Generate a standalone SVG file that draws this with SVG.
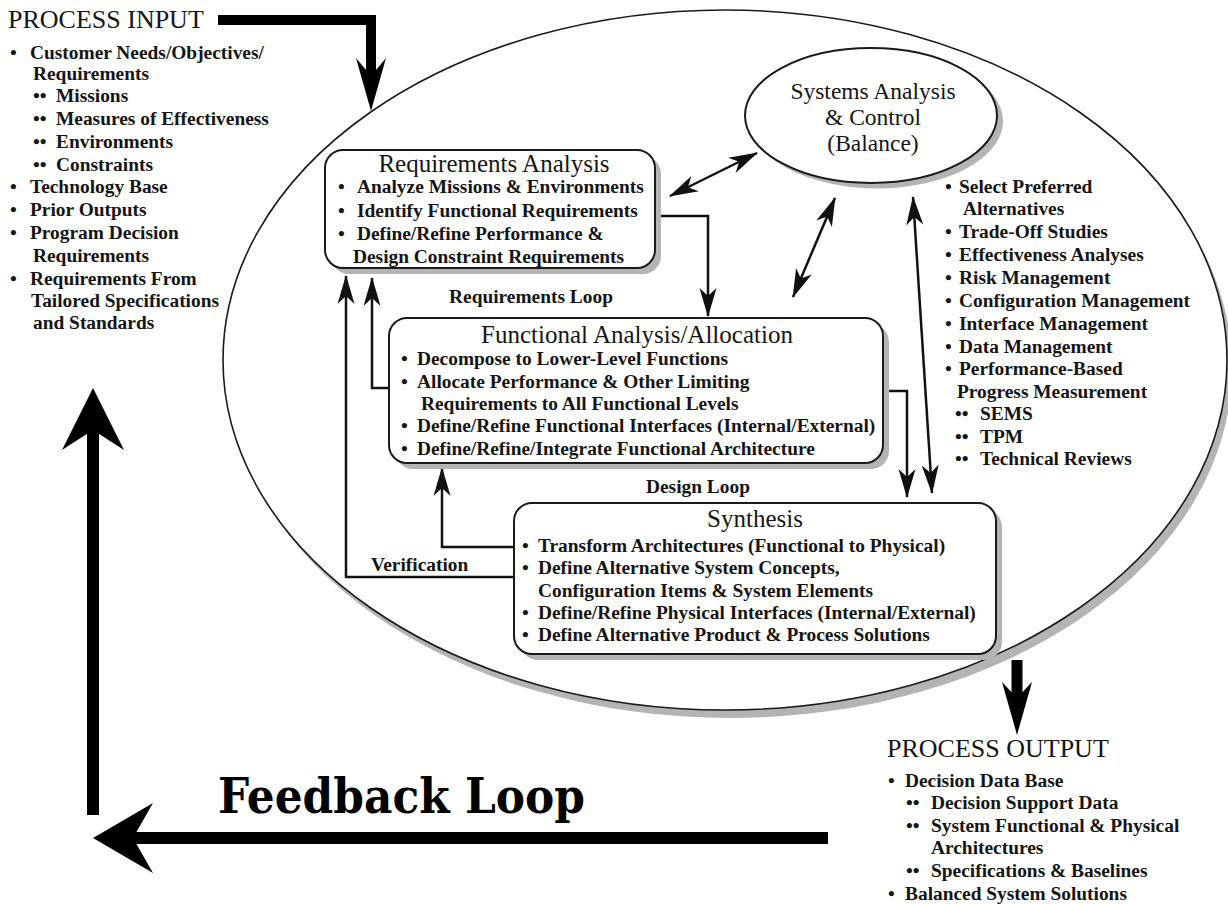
<svg xmlns="http://www.w3.org/2000/svg" width="1228" height="904" viewBox="0 0 1228 904">
  <defs>
    <style>
      .hd { font-family: "Liberation Serif", "Times New Roman", serif; font-size: 26px; fill: #151515; }
      .tt { font-family: "Liberation Serif", "Times New Roman", serif; font-size: 25px; fill: #151515; text-anchor: middle; }
      .st { font-family: "Liberation Serif", "Times New Roman", serif; font-size: 23.5px; fill: #151515; text-anchor: middle; }
      .it { font-family: "Liberation Serif", "Times New Roman", serif; font-size: 19.4px; font-weight: bold; fill: #151515; }
      .lb { font-family: "Liberation Serif", "Times New Roman", serif; font-size: 19.4px; font-weight: bold; fill: #151515; }
      .fb { font-family: "DejaVu Serif", "Liberation Serif", serif; font-size: 48px; font-weight: bold; fill: #000; }
      .box { fill: #fff; stroke: #1a1a1a; stroke-width: 2; }
      .shadow { fill: #b4b4b4; stroke: none; }
      .wire { fill: none; stroke: #111; stroke-width: 2.5; }
      .thick { fill: none; stroke: #000; }
      .head { fill: #000; }
    </style>
    <marker id="tip" viewBox="-30 -10 32 20" markerWidth="32" markerHeight="20" refX="0" refY="0" markerUnits="userSpaceOnUse" orient="auto-start-reverse">
      <path d="M1,0 L-28,-8.5 L-20,0 L-28,8.5 Z" fill="#111"/>
    </marker>
  </defs>

  <!-- outer process boundary -->
  <g id="process-boundary">
    <ellipse cx="730" cy="368" rx="502" ry="350" class="shadow"/>
    <ellipse cx="725" cy="360" rx="502" ry="350" fill="#fff" stroke="#1a1a1a" stroke-width="1.6"/>
  </g>

  <!-- process input -->
  <g id="process-input">
    <text class="hd" x="8" y="28">PROCESS INPUT</text>
    <text class="it" y="59"><tspan x="10">•</tspan><tspan x="30">Customer Needs/Objectives/</tspan></text>
    <text class="it" x="33" y="80">Requirements</text>
    <text class="it" y="102"><tspan x="33">••</tspan><tspan x="56">Missions</tspan></text>
    <text class="it" y="125"><tspan x="33">••</tspan><tspan x="56">Measures of Effectiveness</tspan></text>
    <text class="it" y="148"><tspan x="33">••</tspan><tspan x="56">Environments</tspan></text>
    <text class="it" y="171"><tspan x="33">••</tspan><tspan x="56">Constraints</tspan></text>
    <text class="it" y="193"><tspan x="10">•</tspan><tspan x="30">Technology Base</tspan></text>
    <text class="it" y="216"><tspan x="10">•</tspan><tspan x="30">Prior Outputs</tspan></text>
    <text class="it" y="239"><tspan x="10">•</tspan><tspan x="30">Program Decision</tspan></text>
    <text class="it" x="33" y="262">Requirements</text>
    <text class="it" y="285"><tspan x="10">•</tspan><tspan x="30">Requirements From</tspan></text>
    <text class="it" x="31" y="307">Tailored Specifications</text>
    <text class="it" x="33" y="329">and Standards</text>
  </g>

  <!-- connectors -->
  <g id="connectors">
    <!-- input / output / feedback heavy arrows -->
    <path class="thick" stroke-width="10" d="M218,20 H371 V78"/>
    <path class="head" d="M371,111 L356,58 L371,76 L386,58 Z"/>
    <path class="thick" stroke-width="11" d="M1017,660 V700"/>
    <path class="head" d="M1017,735 L1002,682 L1017,698 L1032,682 Z"/>
    <path class="thick" stroke-width="12" d="M828,838 H128"/>
    <path class="head" d="M93,838 L153,803 L133,838 L153,873 Z"/>
    <path class="thick" stroke-width="12" d="M93,815 V425"/>
    <path class="head" d="M93,388 L124,450 L93,430 L62,450 Z"/>

    <!-- loops between the activities -->
    <path class="wire" d="M655,216 H708 V316" marker-end="url(#tip)"/>
    <path class="wire" d="M883,391 H907 V497" marker-end="url(#tip)"/>
    <path class="wire" d="M390,388 H372 V278" marker-end="url(#tip)"/>
    <path class="wire" d="M514,577 H346 V276" marker-end="url(#tip)"/>
    <path class="wire" d="M514,547 H442 V468" marker-end="url(#tip)"/>

    <!-- balance links -->
    <path class="wire" d="M670,196 L757,153" marker-start="url(#tip)" marker-end="url(#tip)"/>
    <path class="wire" d="M793,297 L835,198" marker-start="url(#tip)" marker-end="url(#tip)"/>
    <path class="wire" d="M932,493 L913,197" marker-start="url(#tip)" marker-end="url(#tip)"/>

    <text class="lb" x="531" y="303" text-anchor="middle">Requirements Loop</text>
    <text class="lb" x="698" y="493" text-anchor="middle">Design Loop</text>
    <text class="lb" x="371" y="571">Verification</text>
  </g>

  <!-- requirements analysis -->
  <g id="requirements-analysis">
    <rect class="shadow" x="331" y="156" width="330" height="118" rx="18"/>
    <rect class="box" x="325" y="150" width="330" height="118" rx="18"/>
    <text class="tt" x="494" y="172">Requirements Analysis</text>
    <text class="it" y="193"><tspan x="338">•</tspan><tspan x="357">Analyze Missions &amp; Environments</tspan></text>
    <text class="it" y="217"><tspan x="338">•</tspan><tspan x="357">Identify Functional Requirements</tspan></text>
    <text class="it" y="240"><tspan x="338">•</tspan><tspan x="357">Define/Refine Performance &amp;</tspan></text>
    <text class="it" x="353" y="263">Design Constraint Requirements</text>
  </g>

  <!-- functional analysis / allocation -->
  <g id="functional-analysis">
    <rect class="shadow" x="395" y="324" width="494" height="145" rx="18"/>
    <rect class="box" x="389" y="318" width="494" height="145" rx="18"/>
    <text class="tt" x="637" y="343">Functional Analysis/Allocation</text>
    <text class="it" y="365"><tspan x="401">•</tspan><tspan x="417">Decompose to Lower-Level Functions</tspan></text>
    <text class="it" y="388"><tspan x="401">•</tspan><tspan x="417">Allocate Performance &amp; Other Limiting</tspan></text>
    <text class="it" x="421" y="410">Requirements to All Functional Levels</text>
    <text class="it" y="432"><tspan x="401">•</tspan><tspan x="417">Define/Refine Functional Interfaces (Internal/External)</tspan></text>
    <text class="it" y="455"><tspan x="401">•</tspan><tspan x="417">Define/Refine/Integrate Functional Architecture</tspan></text>
  </g>

  <!-- synthesis -->
  <g id="synthesis">
    <rect class="shadow" x="520" y="509" width="482" height="151" rx="18"/>
    <rect class="box" x="514" y="503" width="482" height="151" rx="18"/>
    <text class="tt" x="755" y="527">Synthesis</text>
    <text class="it" y="552"><tspan x="522">•</tspan><tspan x="538">Transform Architectures (Functional to Physical)</tspan></text>
    <text class="it" y="574"><tspan x="522">•</tspan><tspan x="538">Define Alternative System Concepts,</tspan></text>
    <text class="it" x="538" y="597">Configuration Items &amp; System Elements</text>
    <text class="it" y="619"><tspan x="522">•</tspan><tspan x="538">Define/Refine Physical Interfaces (Internal/External)</tspan></text>
    <text class="it" y="641"><tspan x="522">•</tspan><tspan x="538">Define Alternative Product &amp; Process Solutions</tspan></text>
  </g>

  <!-- systems analysis & control -->
  <g id="systems-analysis-control">
    <ellipse class="shadow" cx="877" cy="121" rx="126" ry="67.5"/>
    <ellipse class="box" cx="871" cy="115.5" rx="126" ry="67.5"/>
    <text class="st" x="873" y="99">Systems Analysis</text>
    <text class="st" x="873" y="125">&amp; Control</text>
    <text class="st" x="873" y="151">(Balance)</text>
  </g>

  <!-- balance activities -->
  <g id="balance-activities">
    <text class="it" y="193"><tspan x="945">•</tspan><tspan x="959">Select Preferred</tspan></text>
    <text class="it" x="963" y="215">Alternatives</text>
    <text class="it" y="238"><tspan x="945">•</tspan><tspan x="959">Trade-Off Studies</tspan></text>
    <text class="it" y="261"><tspan x="945">•</tspan><tspan x="959">Effectiveness Analyses</tspan></text>
    <text class="it" y="284"><tspan x="945">•</tspan><tspan x="959">Risk Management</tspan></text>
    <text class="it" y="307"><tspan x="945">•</tspan><tspan x="959">Configuration Management</tspan></text>
    <text class="it" y="330"><tspan x="945">•</tspan><tspan x="959">Interface Management</tspan></text>
    <text class="it" y="353"><tspan x="945">•</tspan><tspan x="959">Data Management</tspan></text>
    <text class="it" y="375"><tspan x="945">•</tspan><tspan x="959">Performance-Based</tspan></text>
    <text class="it" x="957" y="398">Progress Measurement</text>
    <text class="it" y="420"><tspan x="955">••</tspan><tspan x="980">SEMS</tspan></text>
    <text class="it" y="443"><tspan x="955">••</tspan><tspan x="980">TPM</tspan></text>
    <text class="it" y="465"><tspan x="955">••</tspan><tspan x="980">Technical Reviews</tspan></text>
  </g>

  <!-- process output -->
  <g id="process-output">
    <text class="hd" x="887" y="757">PROCESS OUTPUT</text>
    <text class="it" y="787"><tspan x="888">•</tspan><tspan x="905">Decision Data Base</tspan></text>
    <text class="it" y="809"><tspan x="906">••</tspan><tspan x="931">Decision Support Data</tspan></text>
    <text class="it" y="832"><tspan x="906">••</tspan><tspan x="931">System Functional &amp; Physical</tspan></text>
    <text class="it" x="931" y="854">Architectures</text>
    <text class="it" y="877"><tspan x="906">••</tspan><tspan x="931">Specifications &amp; Baselines</tspan></text>
    <text class="it" y="900"><tspan x="888">•</tspan><tspan x="905">Balanced System Solutions</tspan></text>
  </g>

  <!-- feedback -->
  <g id="feedback-loop">
    <text class="fb" x="218" y="813" textLength="367" lengthAdjust="spacingAndGlyphs">Feedback Loop</text>
  </g>
</svg>
